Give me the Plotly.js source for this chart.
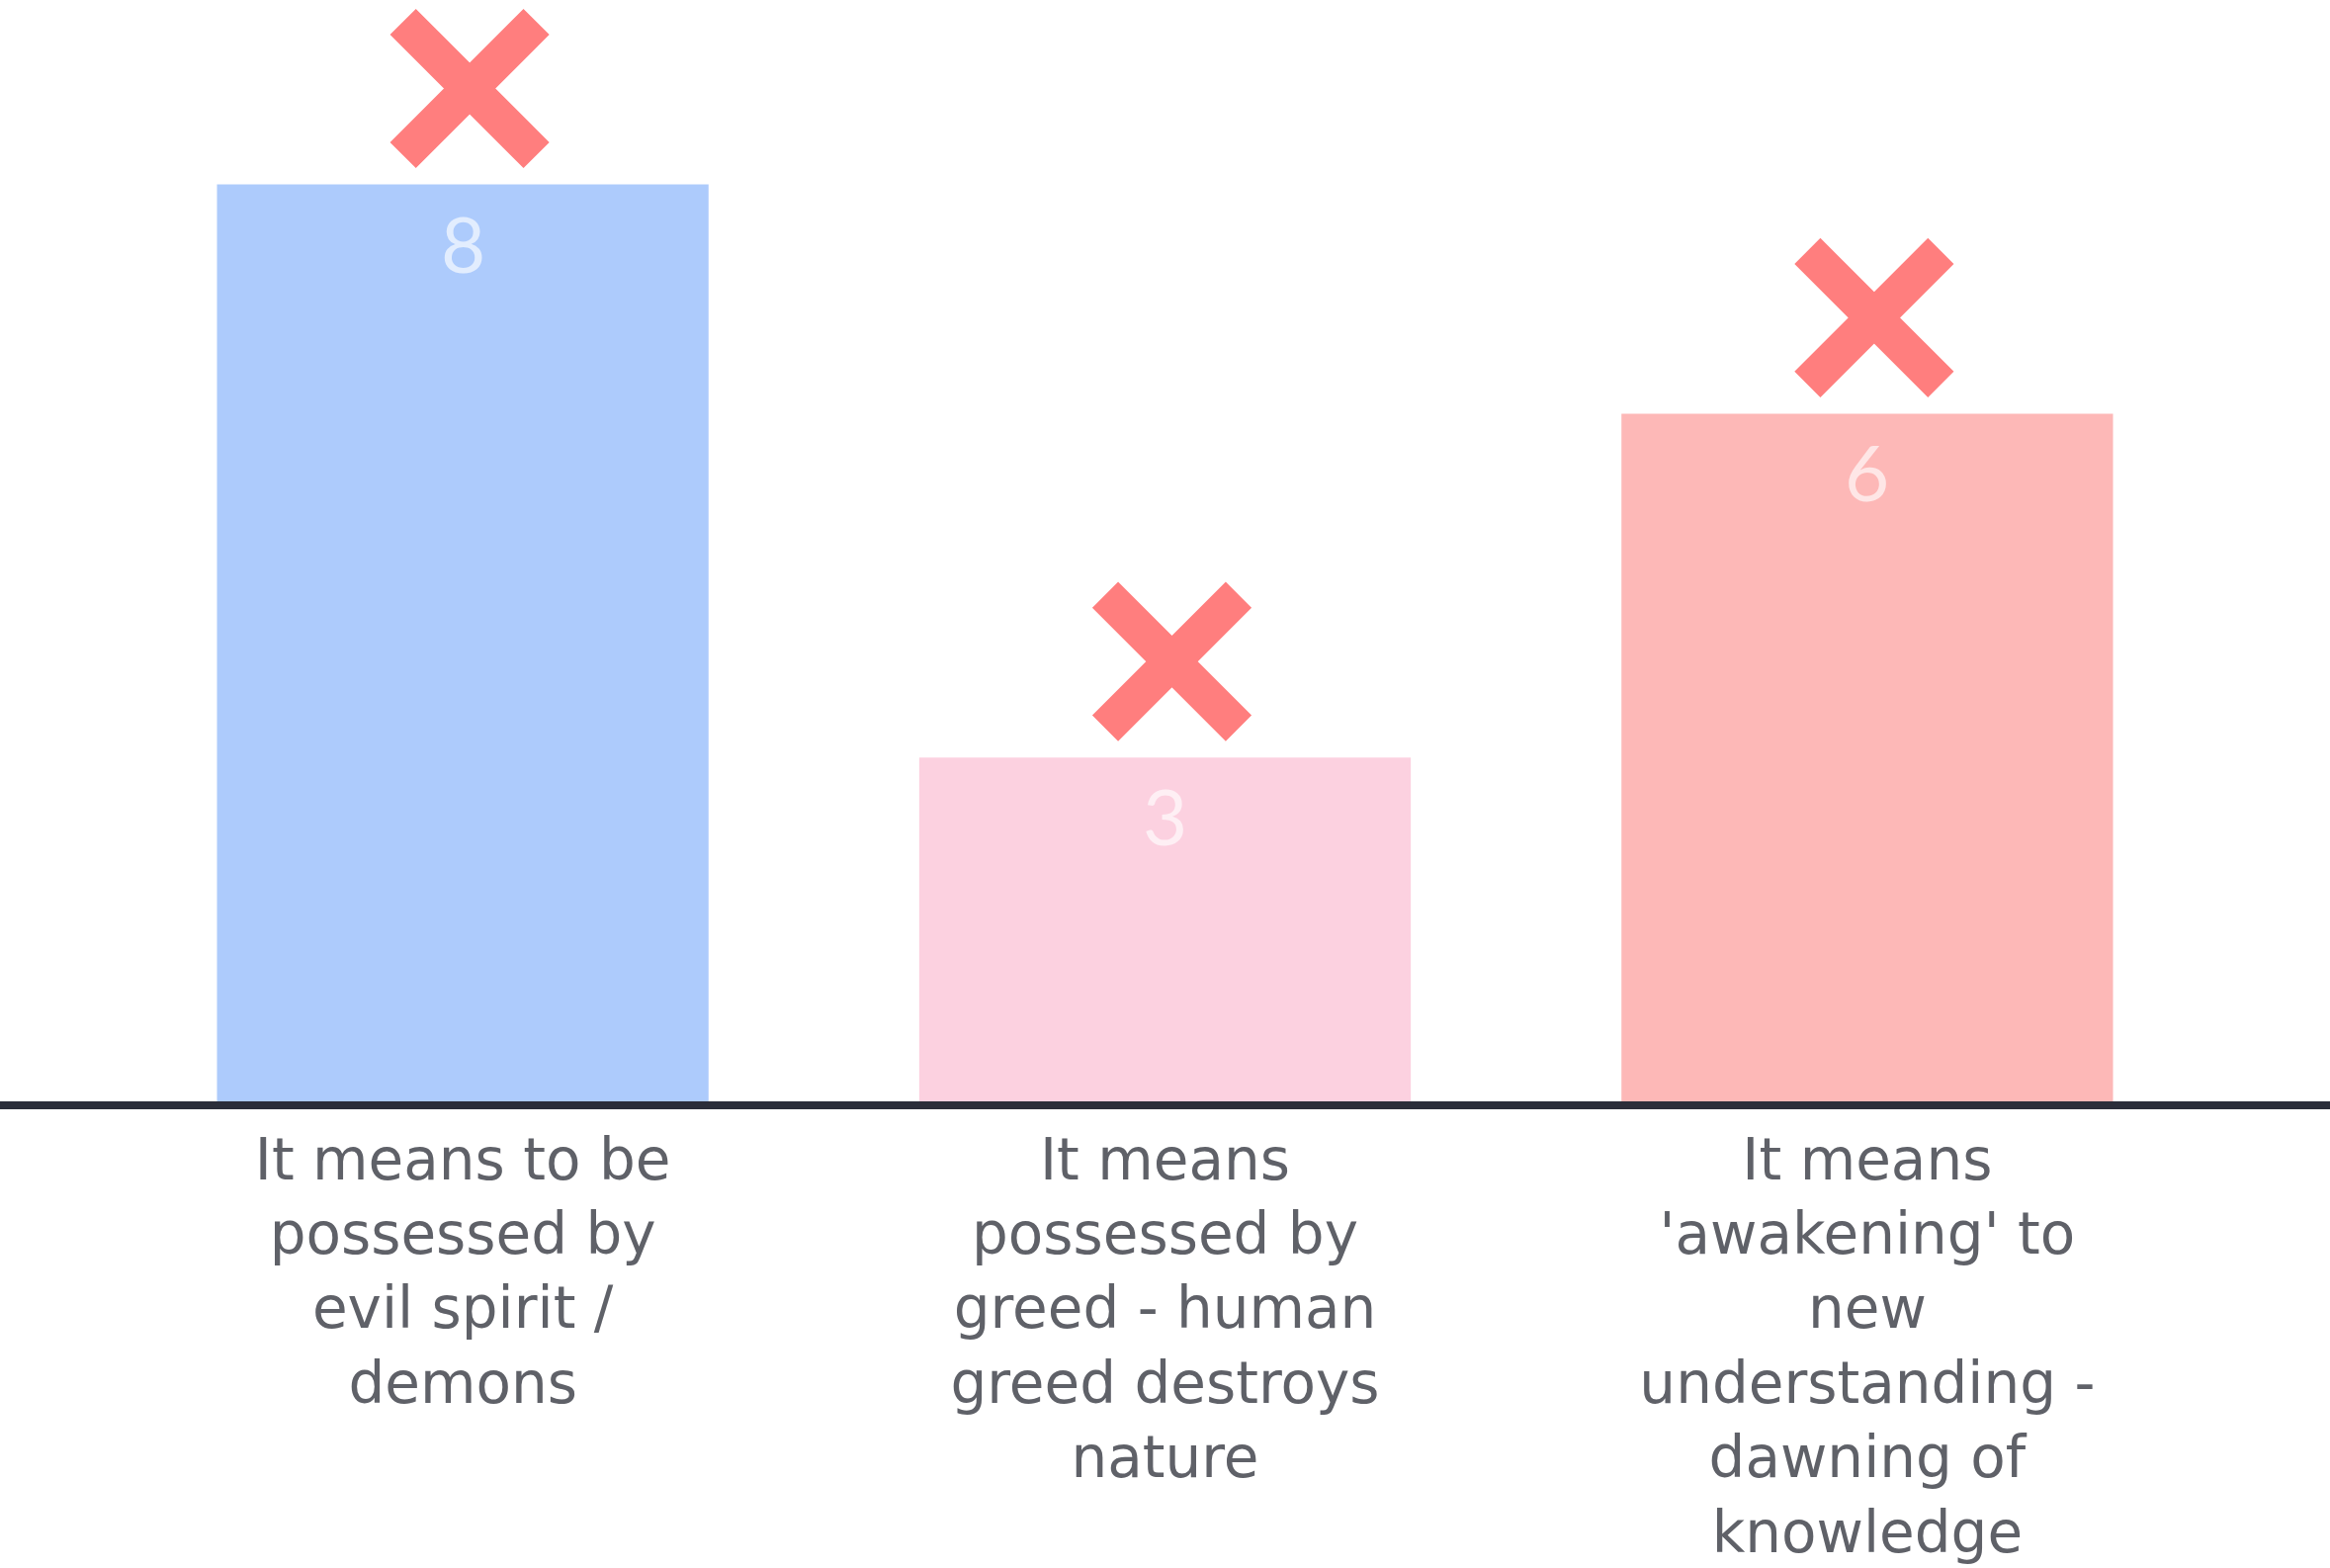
<!DOCTYPE html>
<html>
<head>
<meta charset="utf-8">
<script src="https://cdn.plot.ly/plotly-3.0.1.min.js"></script>
<style>
  html, body { margin: 0; padding: 0; background: #ffffff; }
  #grafico { width: 2357px; height: 1586px; }
</style>
</head>
<body>
<div id="grafico"></div>
<script>
const categorias = [
    "It means to be<br>possessed by<br>evil spirit /<br>demons",
    "It means<br>possessed by<br>greed - human<br>greed destroys<br>nature",
    "It means<br>'awakening' to<br>new<br>understanding -<br>dawning of<br>knowledge"
];
const votos = [8, 3, 6];
const coloresBarras = ["#adcbfc", "#fcd1e0", "#fdb8b7"];
const colorCruz = "#ff7e7e";

// px por unidad del eje y, para poner la cruz un poco arriba de cada barra
const alturaPlot = 1113;
const maxY = 9.6;
const pxPorUnidad = alturaPlot / maxY;
const separacionCruz = 97 / pxPorUnidad;

const rangoX = [-0.659, 2.659];
const corrimientoCruz = 7 / 710.5; // las cruces quedan un poco a la derecha

const barras = {
    type: 'bar',
    x: categorias,
    y: votos,
    marker: { color: coloresBarras },
    width: 0.7,
    hoverinfo: 'none'
};

const cruces = {
    type: 'scatter',
    mode: 'markers',
    x: categorias,
    y: votos.map(v => v + separacionCruz),
    xaxis: 'x2',
    marker: {
        symbol: 'x-thin',
        size: 135,
        color: colorCruz,
        line: { color: colorCruz, width: 37 }
    },
    hoverinfo: 'none'
};

const etiquetas = votos.map((v, i) => ({
    x: categorias[i],
    y: v,
    text: String(v),
    showarrow: false,
    yanchor: 'top',
    yshift: -10,
    font: { family: 'Lato', size: 78, color: 'rgba(255,255,255,0.65)' }
}));

const layout = {
    width: 2357,
    height: 1586,
    margin: { l: 0, r: 0, t: 1, b: 472 },
    paper_bgcolor: '#ffffff',
    plot_bgcolor: '#ffffff',
    showlegend: false,
    xaxis: {
        type: 'category',
        range: rangoX,
        showline: true,
        linewidth: 8,
        linecolor: '#2b2e3a',
        ticks: '',
        showgrid: false,
        zeroline: false,
        ticklabelstandoff: 1,
        tickfont: { family: 'DejaVu Sans', size: 58, color: '#5f6168' }
    },
    xaxis2: {
        type: 'category',
        overlaying: 'x',
        range: rangoX.map(r => r - corrimientoCruz),
        visible: false
    },
    yaxis: {
        range: [0, maxY],
        visible: false,
        fixedrange: true
    },
    annotations: etiquetas
};

Plotly.newPlot('grafico', [barras, cruces], layout, { displayModeBar: false, staticPlot: true });
</script>
</body>
</html>
